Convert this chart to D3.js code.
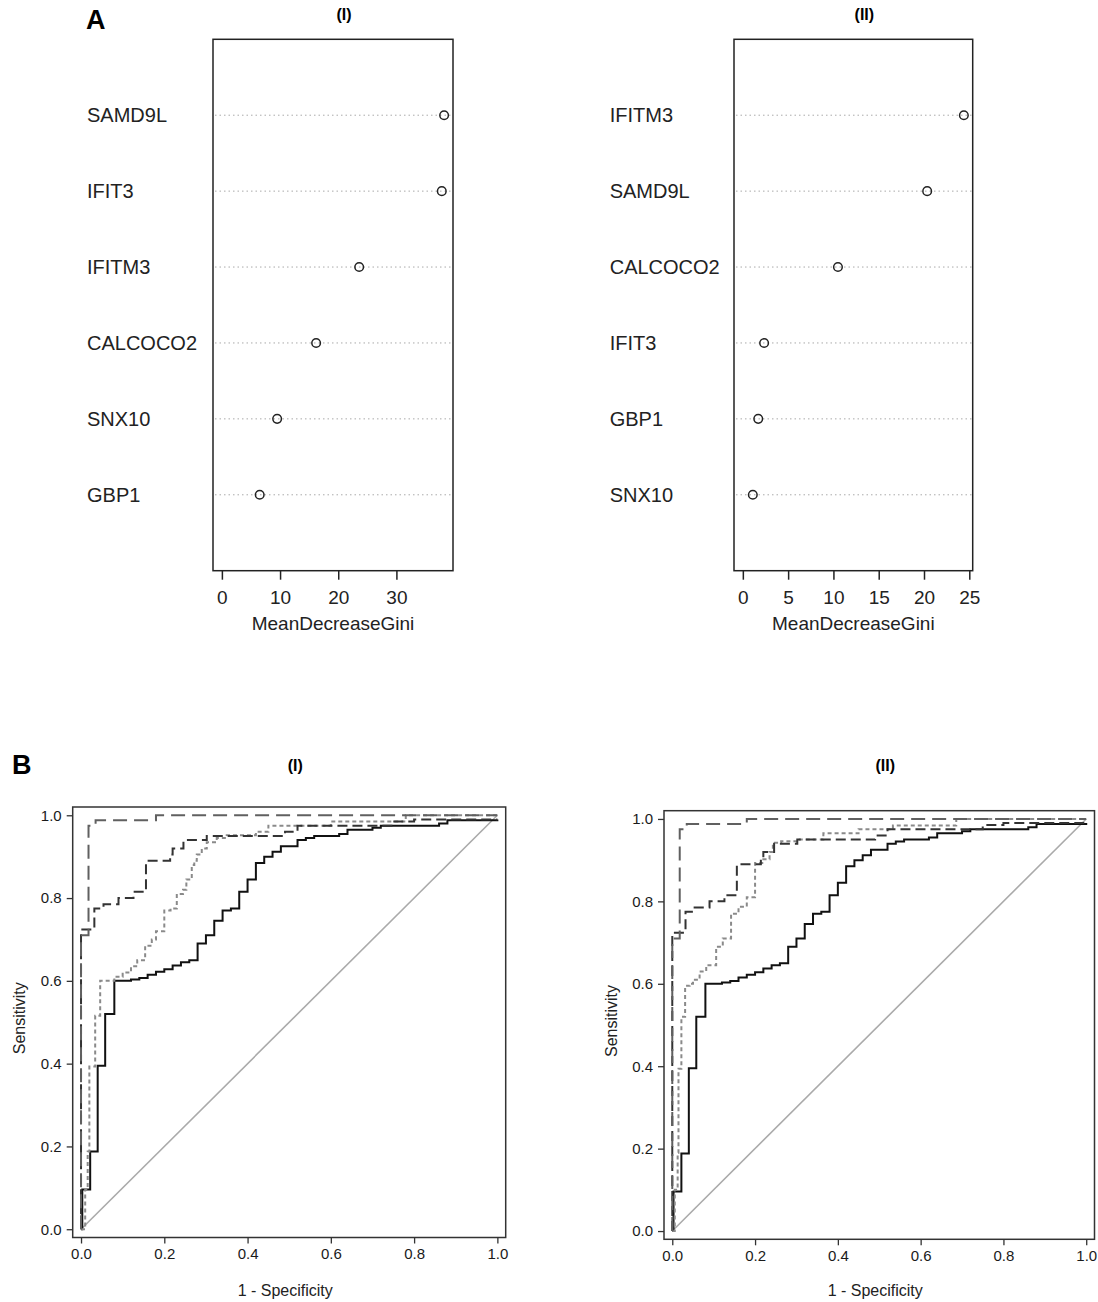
<!DOCTYPE html>
<html>
<head>
<meta charset="utf-8">
<script src="https://cdn.jsdelivr.net/npm/d3@7"></script>
<style>
  body { margin: 0; background: #fff; }
  svg { font-family: "Liberation Sans", Arial, sans-serif; }
</style>
</head>
<body>
<div id="chart"></div>
<script>
const width = 1098, height = 1302;

// Panel A: random forest variable importance
const genesI = ['SAMD9L', 'IFIT3', 'IFITM3', 'CALCOCO2', 'SNX10', 'GBP1'];
const giniI = [38.2, 37.8, 23.6, 16.2, 9.5, 6.5];
const genesII = ['IFITM3', 'SAMD9L', 'CALCOCO2', 'IFIT3', 'GBP1', 'SNX10'];
const giniII = [24.4, 20.35, 10.5, 2.35, 1.7, 1.1];
const giniTicksI = [0, 10, 20, 30];
const giniTicksII = [0, 5, 10, 15, 20, 25];

// Panel B: ROC curves, [1 - specificity, sensitivity] where sensitivity steps up
const rocTicks = [0, 0.2, 0.4, 0.6, 0.8, 1.0];
const rocSolid = [[0, 0], [0.003, 0.096], [0.022, 0.188], [0.04, 0.395], [0.058, 0.52], [0.08, 0.6],
  [0.12, 0.603], [0.14, 0.607], [0.16, 0.615], [0.18, 0.622], [0.2, 0.628], [0.22, 0.637],
  [0.24, 0.645], [0.26, 0.65], [0.28, 0.69], [0.3, 0.71], [0.32, 0.745], [0.34, 0.77],
  [0.36, 0.775], [0.38, 0.815], [0.4, 0.845], [0.42, 0.885], [0.44, 0.9], [0.46, 0.912],
  [0.48, 0.925], [0.52, 0.94], [0.54, 0.945], [0.56, 0.95], [0.62, 0.955], [0.64, 0.965],
  [0.7, 0.97], [0.72, 0.975], [0.86, 0.98], [0.88, 0.988], [1.0, 0.99]];
const rocLongDash = [[0, 0], [0, 0.71], [0.018, 0.975], [0.035, 0.988], [0.18, 1.0], [1.0, 1.0]];
const rocDash = [[0, 0], [0, 0.724], [0.032, 0.775], [0.054, 0.785], [0.09, 0.8], [0.126, 0.815],
  [0.156, 0.89], [0.214, 0.905], [0.22, 0.92], [0.246, 0.94], [0.302, 0.95], [0.49, 0.96],
  [0.52, 0.975], [0.75, 0.985], [0.8, 0.99], [1.0, 0.99]];
const rocShortI = [[0, 0], [0.01, 0.096], [0.016, 0.188], [0.02, 0.393], [0.034, 0.516], [0.046, 0.6],
  [0.08, 0.61], [0.1, 0.62], [0.12, 0.635], [0.135, 0.65], [0.154, 0.685], [0.17, 0.7],
  [0.18, 0.72], [0.2, 0.77], [0.215, 0.775], [0.23, 0.81], [0.245, 0.82], [0.253, 0.845],
  [0.266, 0.88], [0.272, 0.89], [0.278, 0.905], [0.29, 0.92], [0.302, 0.935], [0.326, 0.945],
  [0.35, 0.952], [0.42, 0.96], [0.45, 0.975], [0.6, 0.985], [0.78, 1.0], [1.0, 1.0]];
const rocShortII = [[0, 0], [0.006, 0.1], [0.013, 0.19], [0.015, 0.394], [0.022, 0.52], [0.031, 0.595],
  [0.042, 0.6], [0.05, 0.61], [0.066, 0.63], [0.082, 0.645], [0.106, 0.69], [0.122, 0.71],
  [0.142, 0.77], [0.16, 0.787], [0.18, 0.81], [0.2, 0.893], [0.22, 0.902], [0.235, 0.92],
  [0.243, 0.942], [0.263, 0.946], [0.3, 0.95], [0.365, 0.965], [0.45, 0.975], [0.533, 0.984],
  [0.686, 1.0], [1.0, 1.0]];

const svg = d3.select('#chart').append('svg')
    .attr('width', width)
    .attr('height', height);

// panel letters
svg.append('text').attr('x', 86).attr('y', 29).text('A')
    .attr('font-size', 27).attr('font-weight', 'bold');
svg.append('text').attr('x', 12).attr('y', 774).text('B')
    .attr('font-size', 27).attr('font-weight', 'bold');

function dotPanel(genes, values, ticks, left, right, labelX, title) {
    const top = 39.3, bottom = 570.7;
    const maxV = d3.max(values);
    const x = d3.scaleLinear().domain([-0.04 * maxV, 1.04 * maxV]).range([left, right]);
    const y = d3.scaleLinear().domain([0, genes.length + 1]).range([bottom, top]);
    const g = svg.append('g');

    g.append('text').attr('x', (left + right) / 2 + 11).attr('y', 20)
        .attr('text-anchor', 'middle').attr('font-size', 16).attr('font-weight', 'bold')
        .text(title);

    // dotted guide lines
    g.selectAll('.guide').data(genes).enter().append('line')
        .attr('x1', left + 2).attr('x2', right - 1)
        .attr('y1', (d, i) => y(genes.length - i)).attr('y2', (d, i) => y(genes.length - i))
        .attr('stroke', '#aaa').attr('stroke-width', 1).attr('stroke-dasharray', '1.5 3');

    g.selectAll('.lab').data(genes).enter().append('text')
        .attr('x', labelX).attr('y', (d, i) => y(genes.length - i) + 7)
        .attr('font-size', 20).attr('fill', '#222').text(d => d);

    g.selectAll('circle').data(values).enter().append('circle')
        .attr('cx', d => x(d)).attr('cy', (d, i) => y(genes.length - i))
        .attr('r', 4.3).attr('fill', 'none').attr('stroke', '#222').attr('stroke-width', 1.5);

    g.append('rect').attr('x', left).attr('y', top)
        .attr('width', right - left).attr('height', bottom - top)
        .attr('fill', 'none').attr('stroke', '#222').attr('stroke-width', 1.5);

    const ax = g.append('g').attr('transform', `translate(0,${bottom})`)
        .call(d3.axisBottom(x).tickValues(ticks).tickSize(9).tickPadding(11).tickFormat(d3.format('d')));
    ax.select('.domain').remove();
    ax.selectAll('line').attr('stroke', '#222').attr('stroke-width', 1.5);
    ax.selectAll('text').attr('font-size', 19).attr('fill', '#222')
        .attr('font-family', '"Liberation Sans", Arial, sans-serif');

    g.append('text').attr('x', (left + right) / 2).attr('y', 630)
        .attr('text-anchor', 'middle').attr('font-size', 19).attr('fill', '#222')
        .text('MeanDecreaseGini');
}

dotPanel(genesI, giniI, giniTicksI, 213, 453, 87, '(I)');
dotPanel(genesII, giniII, giniTicksII, 734, 972.7, 609.7, '(II)');

function rocPanel(left, right, top, bottom, shortCurve, title, ylabX) {
    const x = d3.scaleLinear().domain([-0.02, 1.02]).range([left, right]);
    const y = d3.scaleLinear().domain([-0.02, 1.02]).range([bottom, top]);
    const g = svg.append('g');

    g.append('text').attr('x', x(0.5) + 6).attr('y', 771)
        .attr('text-anchor', 'middle').attr('font-size', 16).attr('font-weight', 'bold')
        .text(title);

    const line = d3.line().x(d => x(d[0])).y(d => y(d[1])).curve(d3.curveStepAfter);

    // chance diagonal
    g.append('path').attr('d', d3.line().x(d => x(d[0])).y(d => y(d[1]))([[0, 0], [1, 1]]))
        .attr('fill', 'none').attr('stroke', '#aaa').attr('stroke-width', 1.6);

    const curves = [
        { data: rocSolid, color: '#111', dash: null, w: 2 },
        { data: shortCurve, color: '#8a8a8a', dash: '4 3', w: 2 },
        { data: rocDash, color: '#333', dash: '10 5', w: 2 },
        { data: rocLongDash, color: '#606060', dash: '14 7', w: 2 }
    ];
    g.selectAll('.roc').data(curves).enter().append('path')
        .attr('d', d => line(d.data))
        .attr('fill', 'none')
        .attr('stroke', d => d.color)
        .attr('stroke-width', d => d.w)
        .attr('stroke-dasharray', d => d.dash);

    g.append('rect').attr('x', left).attr('y', top)
        .attr('width', right - left).attr('height', bottom - top)
        .attr('fill', 'none').attr('stroke', '#333').attr('stroke-width', 1.5);

    const ax = g.append('g').attr('transform', `translate(0,${bottom})`)
        .call(d3.axisBottom(x).tickValues(rocTicks).tickSize(6).tickPadding(5).tickFormat(d3.format('.1f')));
    const ay = g.append('g').attr('transform', `translate(${left},0)`)
        .call(d3.axisLeft(y).tickValues(rocTicks).tickSize(6).tickPadding(5).tickFormat(d3.format('.1f')));
    [ax, ay].forEach(a => {
        a.select('.domain').remove();
        a.selectAll('line').attr('stroke', '#333').attr('stroke-width', 1.3);
        a.selectAll('text').attr('font-size', 15).attr('fill', '#1a1a1a')
            .attr('font-family', '"Liberation Sans", Arial, sans-serif');
    });

    g.append('text').attr('x', x(0.5) - 4).attr('y', 1296)
        .attr('text-anchor', 'middle').attr('font-size', 16).attr('fill', '#222')
        .text('1 - Specificity');
    g.append('text')
        .attr('transform', `translate(${ylabX},${y(0.5) - 4}) rotate(-90)`)
        .attr('text-anchor', 'middle').attr('font-size', 16).attr('fill', '#222')
        .text('Sensitivity');
}

rocPanel(72.7, 505.7, 807, 1237.5, rocShortI, '(I)', 25);
rocPanel(664, 1094.5, 810.7, 1239.3, rocShortII, '(II)', 617);
</script>
</body>
</html>
